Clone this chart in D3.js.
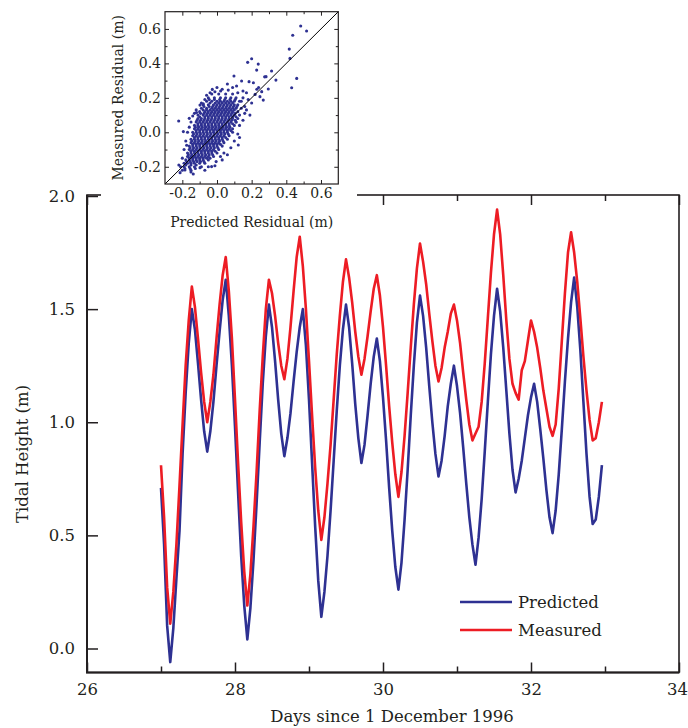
<!DOCTYPE html>
<html><head><meta charset="utf-8">
<script src="https://cdn.jsdelivr.net/npm/d3@7"></script>
<style>
html,body{margin:0;padding:0;background:#fff;}
svg{display:block;}
</style></head><body>
<svg id="chart" width="688" height="728"></svg>
<script>
// ---------------- data ----------------
const startDay = 27;          // first sample (days since 1 Dec 1996)
const samplesPerDay = 24;     // hourly samples
const predicted = [0.71,0.46,0.10,-0.06,0.09,0.31,0.52,0.86,1.13,1.35,1.50,1.41,1.26,1.10,0.96,0.87,0.96,1.09,1.25,1.40,1.54,1.63,1.47,1.25,0.98,0.69,0.41,0.19,0.04,0.18,0.39,0.64,0.91,1.17,1.38,1.52,1.42,1.27,1.10,0.95,0.85,0.93,1.04,1.18,1.31,1.42,1.50,1.34,1.10,0.82,0.54,0.30,0.14,0.25,0.41,0.61,0.83,1.05,1.25,1.41,1.52,1.42,1.26,1.08,0.93,0.82,0.90,1.03,1.17,1.29,1.37,1.27,1.11,0.92,0.71,0.52,0.36,0.26,0.38,0.57,0.79,1.03,1.25,1.44,1.56,1.47,1.33,1.16,1.00,0.86,0.76,0.83,0.94,1.07,1.17,1.25,1.16,1.04,0.89,0.73,0.58,0.46,0.37,0.49,0.66,0.87,1.09,1.30,1.47,1.59,1.49,1.33,1.14,0.95,0.79,0.69,0.75,0.83,0.93,1.03,1.11,1.17,1.09,0.97,0.84,0.70,0.58,0.51,0.61,0.77,0.97,1.18,1.37,1.53,1.64,1.51,1.32,1.09,0.86,0.67,0.55,0.57,0.67,0.81];
const measured = [0.81,0.58,0.27,0.11,0.25,0.46,0.72,0.99,1.25,1.45,1.60,1.51,1.37,1.22,1.09,1.00,1.09,1.21,1.37,1.52,1.65,1.73,1.58,1.37,1.10,0.82,0.56,0.34,0.19,0.33,0.54,0.78,1.05,1.29,1.50,1.63,1.57,1.47,1.35,1.25,1.19,1.28,1.42,1.58,1.73,1.82,1.69,1.50,1.27,1.03,0.80,0.61,0.48,0.58,0.73,0.90,1.10,1.30,1.47,1.62,1.72,1.64,1.53,1.40,1.29,1.21,1.28,1.38,1.49,1.59,1.65,1.56,1.42,1.25,1.07,0.91,0.77,0.67,0.78,0.94,1.13,1.33,1.52,1.68,1.79,1.71,1.61,1.48,1.36,1.25,1.18,1.24,1.33,1.40,1.48,1.52,1.45,1.35,1.22,1.10,0.99,0.92,0.95,0.98,1.09,1.26,1.46,1.66,1.83,1.94,1.83,1.65,1.45,1.28,1.17,1.13,1.10,1.23,1.27,1.36,1.45,1.40,1.33,1.24,1.14,1.06,0.98,0.94,0.99,1.15,1.36,1.57,1.75,1.84,1.75,1.62,1.46,1.29,1.14,1.01,0.92,0.93,1.00,1.09];
const seriesNames = ["Predicted", "Measured"];
const seriesColors = ["#2e3192", "#ed1c24"];
const xTicksMajor = [26, 28, 30, 32, 34];
const xTicksMinor = [27, 29, 31, 33];
const yTicks = [0, 0.5, 1.0, 1.5, 2.0];
const insetTicksMajor = [-0.2, 0.0, 0.2, 0.4, 0.6];
const insetTicksMinor = [-0.1, 0.1, 0.3, 0.5];
// residual scatter: rows of [measured, [predicted...]] for the dense core
const residualRows = [
 [0.222, [-0.03, 0.01, 0.05, 0.09]],
 [0.200, [-0.05, -0.015, 0.02, 0.05, 0.08, 0.11]],
 [0.190, [-0.045, -0.015, 0.015, 0.045, 0.075, 0.105]],
 [0.180, [-0.06, -0.03, 0.0, 0.02, 0.04, 0.06, 0.08, 0.10, 0.13]],
 [0.170, [-0.04, -0.01, 0.01, 0.03, 0.05, 0.07, 0.09]],
 [0.160, [-0.08, -0.05, -0.02, 0.0, 0.02, 0.04, 0.06, 0.08, 0.10, 0.12]],
 [0.150, [-0.075, -0.045, -0.025, -0.005, 0.015, 0.035, 0.055, 0.075, 0.095, 0.115]],
 [0.140, [-0.09, -0.06, -0.03, -0.01, 0.01, 0.03, 0.05, 0.07, 0.09, 0.11, 0.14]],
 [0.130, [-0.08, -0.06, -0.04, -0.02, 0.0, 0.02, 0.04, 0.06, 0.08, 0.10]],
 [0.120, [-0.10, -0.07, -0.05, -0.03, -0.01, 0.01, 0.03, 0.05, 0.07, 0.09, 0.12]],
 [0.110, [-0.095, -0.075, -0.055, -0.035, -0.015, 0.005, 0.025, 0.045, 0.065, 0.085, 0.105]],
 [0.100, [-0.11, -0.08, -0.06, -0.04, -0.02, 0.0, 0.02, 0.04, 0.06, 0.08, 0.10, 0.13]],
 [0.090, [-0.10, -0.07, -0.05, -0.03, -0.01, 0.01, 0.03, 0.05, 0.07, 0.09, 0.11]],
 [0.080, [-0.11, -0.09, -0.07, -0.05, -0.03, -0.01, 0.01, 0.03, 0.05, 0.07, 0.09, 0.12]],
 [0.070, [-0.115, -0.095, -0.075, -0.055, -0.035, -0.015, 0.005, 0.025, 0.045, 0.065, 0.085, 0.105]],
 [0.060, [-0.12, -0.10, -0.08, -0.06, -0.04, -0.02, 0.0, 0.02, 0.04, 0.06, 0.08, 0.11]],
 [0.050, [-0.11, -0.09, -0.07, -0.05, -0.03, -0.01, 0.01, 0.03, 0.05, 0.07, 0.09]],
 [0.040, [-0.13, -0.11, -0.09, -0.07, -0.05, -0.03, -0.01, 0.01, 0.03, 0.05, 0.07, 0.10]],
 [0.030, [-0.125, -0.105, -0.085, -0.065, -0.045, -0.025, -0.005, 0.015, 0.035, 0.055, 0.075]],
 [0.020, [-0.13, -0.11, -0.09, -0.07, -0.05, -0.03, -0.01, 0.01, 0.03, 0.05, 0.07, 0.09]],
 [0.010, [-0.12, -0.10, -0.08, -0.06, -0.04, -0.02, 0.0, 0.02, 0.04, 0.06, 0.08]],
 [0.000, [-0.14, -0.12, -0.10, -0.08, -0.06, -0.04, -0.02, 0.0, 0.02, 0.04, 0.06, 0.09]],
 [-0.010, [-0.135, -0.115, -0.095, -0.075, -0.055, -0.035, -0.015, 0.005, 0.025, 0.045, 0.065]],
 [-0.020, [-0.14, -0.12, -0.10, -0.08, -0.06, -0.04, -0.02, 0.0, 0.02, 0.04, 0.07]],
 [-0.030, [-0.13, -0.11, -0.09, -0.07, -0.05, -0.03, -0.01, 0.01, 0.03, 0.05]],
 [-0.040, [-0.15, -0.13, -0.11, -0.09, -0.07, -0.05, -0.03, -0.01, 0.01, 0.03, 0.06]],
 [-0.050, [-0.145, -0.125, -0.105, -0.085, -0.065, -0.045, -0.025, -0.005, 0.015, 0.035]],
 [-0.060, [-0.15, -0.13, -0.11, -0.09, -0.07, -0.05, -0.03, -0.01, 0.01, 0.04]],
 [-0.070, [-0.14, -0.12, -0.10, -0.08, -0.06, -0.04, -0.02, 0.0, 0.02]],
 [-0.080, [-0.16, -0.14, -0.12, -0.10, -0.08, -0.06, -0.04, -0.02, 0.0, 0.03]],
 [-0.090, [-0.155, -0.135, -0.115, -0.095, -0.075, -0.055, -0.035, -0.015, 0.005]],
 [-0.100, [-0.16, -0.14, -0.12, -0.10, -0.08, -0.06, -0.04, -0.02, 0.01]],
 [-0.110, [-0.15, -0.13, -0.11, -0.09, -0.07, -0.05, -0.03, -0.01]],
 [-0.120, [-0.17, -0.15, -0.13, -0.11, -0.09, -0.07, -0.05, -0.03, 0.0]],
 [-0.130, [-0.165, -0.145, -0.125, -0.105, -0.085, -0.065, -0.045, -0.025]],
 [-0.140, [-0.17, -0.15, -0.13, -0.11, -0.09, -0.07, -0.05, -0.02]],
 [-0.150, [-0.16, -0.14, -0.12, -0.10, -0.08, -0.06, -0.04]],
 [-0.160, [-0.18, -0.16, -0.14, -0.12, -0.10, -0.08, -0.05]],
 [-0.170, [-0.175, -0.155, -0.135, -0.115, -0.095, -0.075]],
 [-0.180, [-0.19, -0.17, -0.15, -0.13, -0.10, -0.07]],
 [-0.190, [-0.18, -0.15, -0.12]],
 [-0.200, [-0.19, -0.16, -0.13, -0.09]],
 [-0.210, [-0.185, -0.155, -0.125]],
 [-0.220, [-0.20, -0.15]]
];
// scattered points around the core: [predicted, measured]
const residualOutliers = [
 [0.483,0.617],[0.517,0.588],[0.437,0.563],[0.417,0.483],[0.421,0.429],[0.200,0.427],[0.177,0.406],
 [0.238,0.396],[0.229,0.361],[0.315,0.356],[0.283,0.323],[0.275,0.322],[0.098,0.327],[0.460,0.313],
 [0.340,0.303],[0.142,0.298],[0.185,0.294],[0.210,0.288],[-0.027,0.249],[0.065,0.245],[0.113,0.269],
 [0.431,0.259],[0.296,0.251],[0.258,0.236],[0.248,0.207],[0.267,0.187],[0.021,0.240],[-0.012,0.235],
 [-0.098,0.158],[-0.079,0.165],[-0.160,0.081],[-0.221,0.066],[-0.140,0.095],[-0.118,0.115],[-0.194,0.004],
 [-0.175,-0.075],[0.123,-0.074],[0.130,-0.030],[-0.213,-0.234],[-0.185,-0.219],[-0.137,-0.242],
 [-0.031,-0.199],[-0.012,-0.194],[-0.098,-0.205],[0.160,0.150],[0.180,0.190],[0.200,0.170],[0.150,0.200],
 [0.120,0.230],[0.150,0.240],[0.170,0.130],[0.190,0.100],[0.150,0.070],[0.130,0.040],[0.120,-0.010],
 [0.100,-0.050],[0.080,-0.090],[0.060,-0.130],[0.030,-0.160],[-0.050,-0.200],[-0.070,-0.220],
 [-0.220,-0.190],[-0.200,-0.150],[-0.190,-0.100],[-0.180,-0.050],[-0.170,0.000],[-0.160,0.030],
 [-0.150,0.060],[-0.130,0.110],[-0.120,0.130],[-0.090,0.170],[-0.070,0.190],[-0.040,0.230],
 [0.000,0.260],[0.030,0.250],[0.060,0.280],[0.090,0.260],[0.240,0.260],[0.220,0.220],[0.230,0.250],
 [0.170,0.230],[0.140,0.180],[0.160,0.110],[-0.060,0.215],[0.110,0.060],[0.040,-0.120],[0.020,-0.140],
 [-0.005,-0.170],[-0.210,-0.200],[-0.150,-0.230]
];

// ---------------- drawing ----------------
const svg = d3.select("#chart");
const FONT = "DejaVu Serif, serif";
const ink = "#231f20";
const MAIN_FS = 16.5, INSET_FS = 14;
const M = {left: 87, right: 679, top: 195, bottom: 672.5};
const x = d3.scaleLinear().domain([26, 34]).range([M.left, M.right]);
const y = d3.scaleLinear().domain([0, 2]).range([648.5, 196]);

function styleAxis(g, size) {
  g.attr("font-family", FONT).attr("font-size", size).attr("color", ink);
  g.select(".domain").remove();
  g.selectAll(".tick line").attr("stroke-width", 1.5);
}

// main series
const days = predicted.map((_, i) => startDay + i / samplesPerDay);
const line = d3.line().x((d, i) => x(days[i])).y(d => y(d));
[predicted, measured].forEach((s, k) => {
  svg.append("path").datum(s).attr("d", line).attr("fill", "none")
    .attr("stroke", seriesColors[k]).attr("stroke-width", 2.6)
    .attr("stroke-linejoin", "round").attr("stroke-linecap", "butt");
});

// axes
svg.append("g").attr("transform", `translate(0,${M.bottom})`)
  .call(d3.axisBottom(x).tickValues(xTicksMajor).tickSizeInner(-10).tickSizeOuter(0).tickPadding(11).tickFormat(d3.format("d")))
  .call(g => styleAxis(g, MAIN_FS))
  .call(g => g.selectAll(".tick text").filter(d => d === 34).attr("dx", -2));
svg.append("g").attr("transform", `translate(0,${M.bottom})`)
  .call(d3.axisBottom(x).tickValues(xTicksMinor).tickSizeInner(-6).tickSizeOuter(0).tickFormat(""))
  .call(g => styleAxis(g, MAIN_FS));
svg.append("g").attr("transform", `translate(0,${M.top})`)
  .call(d3.axisTop(x).tickValues(xTicksMajor).tickSizeInner(-10).tickSizeOuter(0).tickFormat(""))
  .call(g => styleAxis(g, MAIN_FS));
svg.append("g").attr("transform", `translate(0,${M.top})`)
  .call(d3.axisTop(x).tickValues(xTicksMinor).tickSizeInner(-6).tickSizeOuter(0).tickFormat(""))
  .call(g => styleAxis(g, MAIN_FS));
svg.append("g").attr("transform", `translate(${M.left},0)`)
  .call(d3.axisLeft(y).tickValues(yTicks).tickSizeInner(-11).tickSizeOuter(0).tickPadding(12).tickFormat(d3.format(".1f")))
  .call(g => styleAxis(g, MAIN_FS));

// frame
svg.append("rect").attr("x", M.left).attr("y", M.top).attr("width", M.right - M.left).attr("height", M.bottom - M.top)
  .attr("fill", "none").attr("stroke", ink).attr("stroke-width", 1.6);
svg.append("path").attr("d", `M${M.left},${M.top}V${M.bottom}H${M.right}`)
  .attr("fill", "none").attr("stroke", ink).attr("stroke-width", 2);

// titles
svg.append("text").attr("x", 392).attr("y", 722).attr("text-anchor", "middle")
  .attr("font-family", FONT).attr("font-size", MAIN_FS).attr("fill", ink).text("Days since 1 December 1996");
svg.append("text").attr("transform", "translate(28,454) rotate(-90)").attr("text-anchor", "middle")
  .attr("font-family", FONT).attr("font-size", MAIN_FS).attr("fill", ink).text("Tidal Height (m)");

// legend
const legY = [602, 630];
seriesNames.forEach((name, k) => {
  svg.append("line").attr("x1", 460).attr("x2", 512).attr("y1", legY[k]).attr("y2", legY[k])
    .attr("stroke", seriesColors[k]).attr("stroke-width", 2.4);
  svg.append("text").attr("x", 518).attr("y", legY[k] + 6).attr("font-family", FONT).attr("font-size", MAIN_FS)
    .attr("fill", ink).text(name);
});

// ---------------- inset ----------------
svg.append("rect").attr("x", 101).attr("y", 0).attr("width", 256).attr("height", 232).attr("fill", "#fff");
const I = {left: 165, right: 338.3, top: 11.7, bottom: 184};
const ix = d3.scaleLinear().domain([-0.3, 0.7]).range([I.left, I.right]);
const iy = d3.scaleLinear().domain([-0.3, 0.7]).range([I.bottom, I.top]);
const fmt = d => d3.format(".1f")(d).replace("\u2212", "-");

const residuals = [];
residualRows.forEach(([m, ps]) => ps.forEach(p => residuals.push([p, m])));
residualOutliers.forEach(d => residuals.push(d));

svg.append("g").selectAll("circle").data(residuals).join("circle")
  .attr("cx", d => ix(d[0])).attr("cy", d => iy(d[1])).attr("r", 1.55).attr("fill", seriesColors[0]);

svg.append("line").attr("x1", ix(-0.3)).attr("y1", iy(-0.3)).attr("x2", ix(0.7)).attr("y2", iy(0.7))
  .attr("stroke", "#000").attr("stroke-width", 1);

const insetAxes = [
  [d3.axisBottom(ix), `translate(0,${I.bottom})`, true],
  [d3.axisTop(ix), `translate(0,${I.top})`, false],
  [d3.axisLeft(iy), `translate(${I.left},0)`, true],
  [d3.axisRight(iy), `translate(${I.right},0)`, false]
];
insetAxes.forEach(([ax, tr, labels]) => {
  svg.append("g").attr("transform", tr)
    .call(ax.tickValues(insetTicksMajor).tickSizeInner(-4).tickSizeOuter(0).tickPadding(labels ? 4 : 0).tickFormat(labels ? fmt : ""))
    .call(g => { styleAxis(g, INSET_FS); g.selectAll(".tick line").attr("stroke-width", 1); });
  svg.append("g").attr("transform", tr)
    .call(ax.tickValues(insetTicksMinor).tickSizeInner(-2.5).tickSizeOuter(0).tickFormat(""))
    .call(g => { styleAxis(g, INSET_FS); g.selectAll(".tick line").attr("stroke-width", 1); });
});
svg.append("rect").attr("x", I.left).attr("y", I.top).attr("width", I.right - I.left).attr("height", I.bottom - I.top)
  .attr("fill", "none").attr("stroke", ink).attr("stroke-width", 1.2);

svg.append("text").attr("x", (I.left + I.right) / 2).attr("y", 226.7).attr("text-anchor", "middle")
  .attr("font-family", FONT).attr("font-size", INSET_FS).attr("fill", ink).text("Predicted Residual (m)");
svg.append("text").attr("transform", `translate(122.7,${(I.top + I.bottom) / 2}) rotate(-90)`).attr("text-anchor", "middle")
  .attr("font-family", FONT).attr("font-size", INSET_FS).attr("fill", ink).text("Measured Residual (m)");
</script>
</body></html>
